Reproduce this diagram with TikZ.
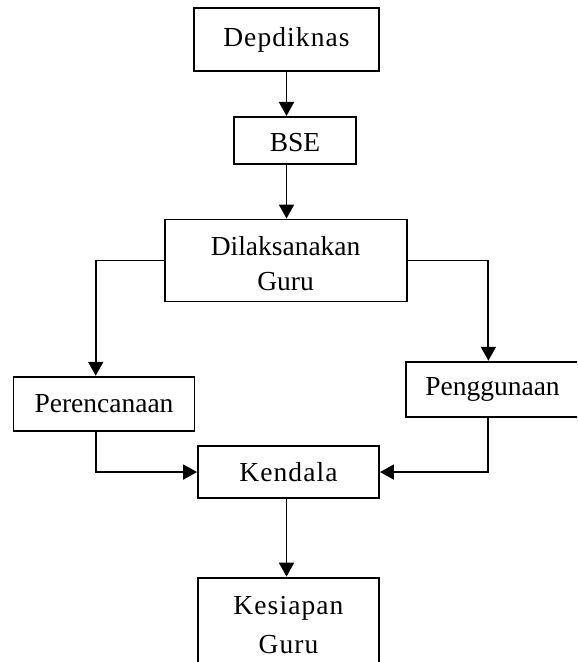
\documentclass[tikz,border=0pt]{standalone}
\usepackage{fontspec}
\setmainfont{Liberation Serif}
\usepackage{tikz}
\usetikzlibrary{arrows.meta,positioning}

\begin{document}
\begin{tikzpicture}[
  blok/.style={rectangle, draw=black, line width=0.95pt, inner sep=0pt,
               align=center, font=\fontsize{13.75}{17.5}\selectfont},
  renggang/.style={font=\fontsize{13.75}{19.5}\selectfont\addfontfeature{LetterSpace=4}},
  panah/.style={-{Triangle[length=7pt,width=7.5pt]}, line width=0.95pt}
]
  \useasboundingbox (0,0) rectangle (288.5pt,-331pt);
  \clip (0,0) rectangle (288.5pt,-331pt);
  \node[blok, renggang, minimum width=92.5pt, minimum height=31.5pt] (dep)
    at (143.25pt,-19.75pt) {Depdiknas};
  \node[blok, minimum width=61pt, minimum height=23.5pt,
        below=22pt of dep, xshift=4.25pt] (bse) {\rule{0pt}{11.6pt}BSE};
  \node[blok, minimum width=121pt, minimum height=41pt,
        below=26.85pt of bse, xshift=-4.7pt] (dil)
        {\rule{0pt}{12.4pt}Dilaksanakan\\Guru};
  \node[blok, minimum width=90.5pt, minimum height=27pt,
        below=36.65pt of dil, xshift=-90.8pt] (per) {Perencanaan};
  \node[blok, minimum width=86.5pt, minimum height=27.8pt,
        below=29.15pt of dil, xshift=103.45pt] (pen) {Penggunaan};
  \node[blok, renggang, minimum width=90.5pt, minimum height=26.35pt,
        below=71.15pt of dil, xshift=1.45pt] (kend) {Kendala};
  \node[blok, renggang, minimum width=90.5pt, minimum height=47.6pt,
        below=38.65pt of kend] (kes) {Kesiapan\\Guru};

  \draw[panah] (dep.south) -- (bse.north -| dep.south);
  \draw[panah] (bse.south -| dep.south) -- (dil.north -| dep.south);
  \draw[panah] (dil.west) -| ([xshift=-4.15pt]per.north);
  \draw[panah] (dil.east) -| ([xshift=-2.05pt]pen.north);
  \draw[panah] ([xshift=-4.15pt]per.south) |- (kend.west);
  \draw[panah] ([xshift=-2.05pt]pen.south) |- (kend.east);
  \draw[panah] (kend.south -| dep.south) -- (kes.north -| dep.south);
\end{tikzpicture}
\end{document}
